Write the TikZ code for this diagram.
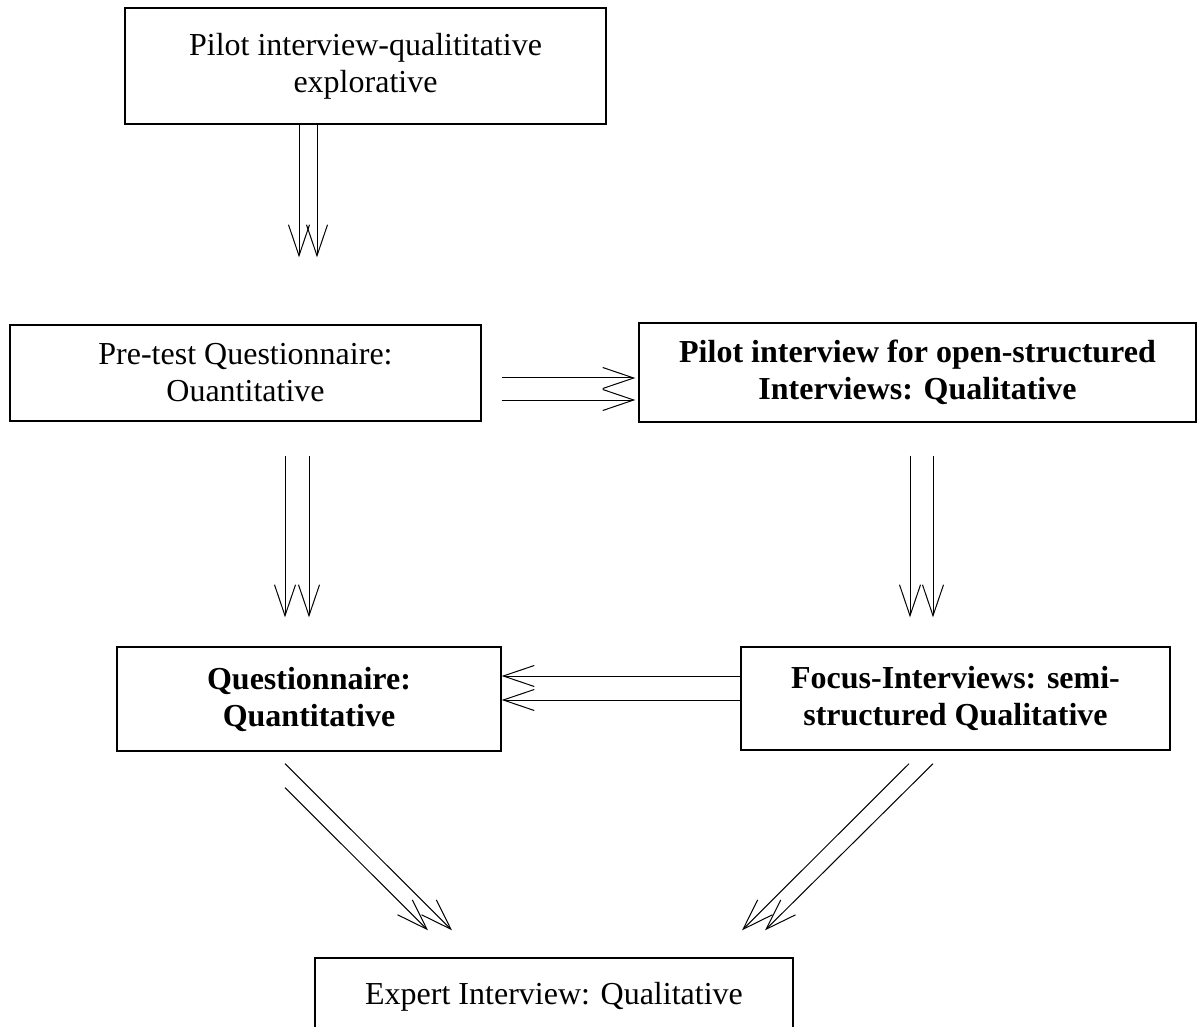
\documentclass[tikz,border=0pt]{standalone}
\usepackage{fontspec}
\setmainfont{Liberation Serif}
\usetikzlibrary{arrows.meta,positioning,calc}
\begin{document}
\begin{tikzpicture}[x=0.5pt,y=-0.5pt,box/.style={draw,line width=0.7pt,align=center,inner sep=0pt,font=\fontsize{16}{18.5}\selectfont},bbox/.style={box,font=\fontsize{16}{18.5}\selectfont\bfseries},arr/.style={-{Straight Barb[length=15.5pt,width=10.5pt]},line width=0.5pt}]
      \useasboundingbox (0,0) rectangle (1200,1027);
      \node[box,minimum width=240.5pt,minimum height=58pt] (pilot) at (365.5,66) {Pilot interview-qualititative\\explorative};
      \node[box,minimum width=235.5pt,minimum height=48pt] (pretest) at (245.5,373) {Pre-test Questionnaire:\\Ouantitative};
      \node[bbox,minimum width=278.5pt,minimum height=49.5pt] (openpilot) at (917.5,372.5) {Pilot interview for open-structured\\Interviews: Qualitative};
      \node[bbox,minimum width=192pt,minimum height=52pt] (quest) at (309,699) {Questionnaire:\\Quantitative};
      \node[bbox,minimum width=214.5pt,minimum height=51.5pt] (focus) at (955.5,698.5) {Focus-Interviews: semi-\\structured Qualitative};
      \node[box,minimum width=239pt,minimum height=38.5pt] (expert) at (554,996.5) {Expert Interview: Qualitative};
      \draw[arr] ($(pilot.south)+(-66.5,0)$)--($(pretest.north)+(53.5,-67)$); \draw[arr] ($(pilot.south)+(-48.5,0)$)--($(pretest.north)+(71.5,-67)$);
      \draw[arr] ($(pretest.east)+(20,5)$)--($(openpilot.west)+(-3,5.5)$); \draw[arr] ($(pretest.east)+(20,27)$)--($(openpilot.west)+(-3,27.5)$);
      \draw[arr] ($(pretest.south)+(39.5,34)$)--($(quest.north)+(-24,-29)$); \draw[arr] ($(pretest.south)+(63.5,34)$)--($(quest.north)+(0,-29)$);
      \draw[arr] ($(openpilot.south)+(-7.5,33)$)--($(focus.north)+(-45.5,-29)$); \draw[arr] ($(openpilot.south)+(15.5,33)$)--($(focus.north)+(-22.5,-29)$);
      \draw[arr] ($(focus.west)+(0,-22.5)$)--($(quest.east)+(0,-23)$); \draw[arr] ($(focus.west)+(0,1.5)$)--($(quest.east)+(0,1)$);
      \draw[arr] ($(quest.south)+(-24,12)$)--($(expert.north)+(-102,-27)$); \draw[arr] ($(quest.south)+(-24,36)$)--($(expert.north)+(-126,-27)$);
      \draw[arr] ($(focus.south)+(-46.5,13)$)--($(expert.north)+(188,-27)$); \draw[arr] ($(focus.south)+(-22.5,13)$)--($(expert.north)+(211,-27)$);
    \end{tikzpicture}
\end{document}
